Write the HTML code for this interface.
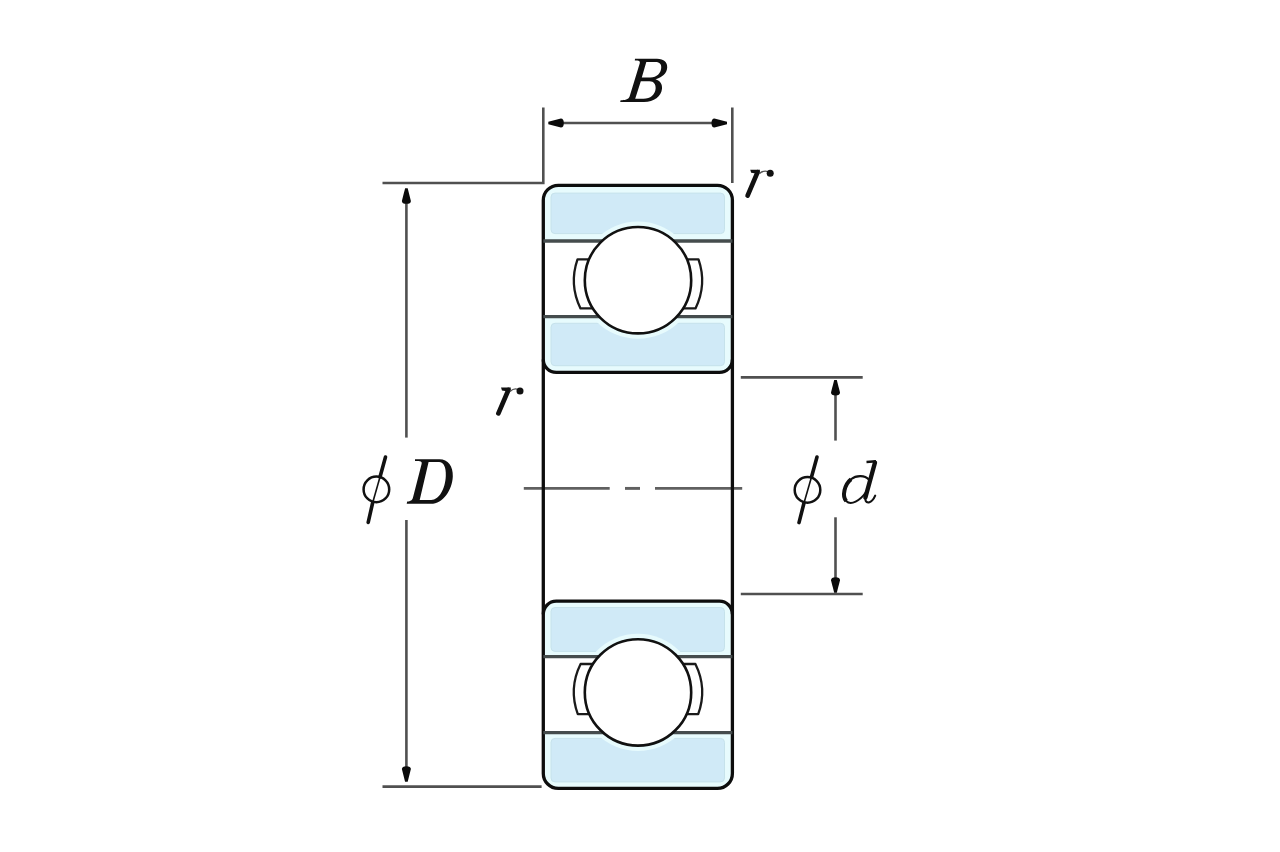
<!DOCTYPE html>
<html><head><meta charset="utf-8">
<style>
html,body{margin:0;padding:0;background:#fff;width:1280px;height:852px;overflow:hidden}
svg{display:block}
text{font-family:"Liberation Serif",serif;font-style:italic;fill:#111}
</style></head>
<body>
<svg width="1280" height="852" viewBox="0 0 1280 852">
<rect width="1280" height="852" fill="#fff"/>

<!-- SECTION-DIMS -->
<g stroke="#505050" stroke-width="2.6" fill="none">
  <path d="M543.3,107.5 V183 H382.5"/>
  <path d="M732.3,107.5 V183"/>
  <line x1="556" y1="123" x2="719" y2="123"/>
  <line x1="406.4" y1="200" x2="406.4" y2="437.6"/>
  <line x1="406.4" y1="520" x2="406.4" y2="770"/>
  <line x1="382.5" y1="786.6" x2="541.6" y2="786.6"/>
  <line x1="740.8" y1="377.4" x2="862.7" y2="377.4"/>
  <line x1="740.8" y1="594" x2="862.7" y2="594"/>
  <line x1="835.5" y1="392" x2="835.5" y2="440.6"/>
  <line x1="835.5" y1="517.3" x2="835.5" y2="580"/>
</g>
<defs><path id="arw" d="M0,-1.3 L12.6,-4.5 A2.9,4.5 0 0 1 12.6,4.5 L0,1.3 Z"/></defs>
<g fill="#0a0a0a">
  <use href="#arw" transform="translate(548.3,123) rotate(0)"/>
  <use href="#arw" transform="translate(727,123) rotate(180)"/>
  <use href="#arw" transform="translate(406.4,188.3) rotate(90)"/>
  <use href="#arw" transform="translate(406.4,781.7) rotate(-90)"/>
  <use href="#arw" transform="translate(835.5,380) rotate(90)"/>
  <use href="#arw" transform="translate(835.5,592.8) rotate(-90)"/>
</g>

<!-- SECTION-CENTRELINE -->
<g stroke="#606060" stroke-width="2.9">
  <line x1="523.8" y1="488.4" x2="609.7" y2="488.4"/>
  <line x1="625" y1="488.4" x2="640" y2="488.4"/>
  <line x1="655" y1="488.4" x2="742.2" y2="488.4"/>
</g>

<!-- SECTION-BEARING -->
<defs><clipPath id="bodyclip"><path d="M558.3,185.3 H717.4 A15,15 0 0 1 732.4,200.3 V773.4 A15,15 0 0 1 717.4,788.4 H558.3 A15,15 0 0 1 543.3,773.4 V200.3 A15,15 0 0 1 558.3,185.3 Z"/></clipPath></defs>
<g fill="#e7fbfd" clip-path="url(#bodyclip)">
  <rect x="544.3" y="186.3" width="187.1" height="53.7"/>
  <path d="M544.3,317.7 H731.4 V359.5 A12,12 0 0 1 719.4,371.5 H556.3 A12,12 0 0 1 544.3,359.5 Z"/>
  <path d="M544.3,655.6 H731.4 V614.1 A12,12 0 0 0 719.4,602.1 H556.3 A12,12 0 0 0 544.3,614.1 Z"/>
  <rect x="544.3" y="733.6" width="187.1" height="53.8"/>
</g>
<g fill="#d0eaf7" stroke="#c6e2eb" stroke-width="1">
  <rect x="551" y="193.1" width="173.5" height="40.5" rx="4"/>
  <rect x="551" y="323.3" width="173.5" height="42.4" rx="4"/>
  <rect x="551" y="607.5" width="173.5" height="43.9" rx="4"/>
  <rect x="551" y="738.4" width="173.5" height="43.5" rx="4"/>
</g>
<defs><clipPath id="ringclip">
  <rect x="540" y="180" width="200" height="61"/>
  <rect x="540" y="316.7" width="200" height="60"/>
  <rect x="540" y="596" width="200" height="60.6"/>
  <rect x="540" y="732.6" width="200" height="60"/>
</clipPath></defs>
<g fill="#e7fbfd" clip-path="url(#ringclip)">
  <circle cx="638" cy="280.2" r="58.6"/>
  <circle cx="638" cy="692.4" r="58.6"/>
</g>
<g fill="none" stroke="#0d0d0d" stroke-width="3.3">
  <path d="M558.3,185.3 H717.4 A15,15 0 0 1 732.4,200.3 V773.4 A15,15 0 0 1 717.4,788.4 H558.3 A15,15 0 0 1 543.3,773.4 V200.3 A15,15 0 0 1 558.3,185.3 Z"/>
  <path d="M543.3,359.4 A13,13 0 0 0 556.3,372.4 H719.4 A13,13 0 0 0 732.4,359.4"/>
  <path d="M543.3,614.2 A13,13 0 0 1 556.3,601.2 H719.4 A13,13 0 0 1 732.4,614.2"/>
</g>
<g stroke="#454c4d" stroke-width="3.3">
  <line x1="543.3" y1="241.0" x2="732.4" y2="241.0"/>
  <line x1="543.3" y1="316.7" x2="732.4" y2="316.7"/>
  <line x1="543.3" y1="656.6" x2="732.4" y2="656.6"/>
  <line x1="543.3" y1="732.6" x2="732.4" y2="732.6"/>
</g>
<g fill="#fff" stroke="#1a1a1a" stroke-width="2.3" stroke-linejoin="round">
  <path d="M577.5,259.4 L605,259.4 L605,308.4 L580.5,308.4 A64,64 0 0 1 577.5,259.4 Z"/>
  <path d="M698.5,259.4 L671,259.4 L671,308.4 L695.5,308.4 A64,64 0 0 0 698.5,259.4 Z"/>
  <path d="M580.6,664.0 L605,664.0 L605,714.2 L577.8,714.2 A64,64 0 0 1 580.6,664.0 Z"/>
  <path d="M695.4,664.0 L671,664.0 L671,714.2 L698.2,714.2 A64,64 0 0 0 695.4,664.0 Z"/>
</g>
<g fill="#fff" stroke="#111" stroke-width="2.6">
  <circle cx="638" cy="280.2" r="53.2"/>
  <circle cx="638" cy="692.4" r="53.2"/>
</g>

<!-- SECTION-LABELS -->
<!-- glyph-B -->
<path fill="#111" fill-rule="evenodd" d="M635,58.8 L657,58.8 C664,58.8 667.6,62.3 667.2,67.8 C666.8,73.5 662,77.6 655.5,79.3 C660.5,80.8 662.4,84.5 662,88.7 C661.3,96.3 654,102 644,102 L620.2,102 L620.6,100.2 C624.5,100.2 628.5,99.8 629.6,96.5 L639.7,63.5 C640.4,61 639,60.6 634.8,60.6 Z
 M646.3,62 L655.5,62 C659.8,62 661.6,64.5 661.2,68 C660.7,73.3 657,77.4 650.5,77.4 L641.8,77.4 Z
 M640.8,81.2 L649.5,81.2 C654,81.2 656,84.5 655.6,88.8 C655,94.8 650.5,98.8 643.5,98.8 L635.2,98.8 Z"/>
<!-- glyph-r -->
<g>
  <line x1="498.4" y1="413.4" x2="508.4" y2="390.0" stroke="#111" stroke-width="4.7" stroke-linecap="round"/>
  <path d="M501.0,387.6 L510.8,387.6 L510.0,391.8 L502.0,390.6 Z" fill="#111"/>
  <path d="M510.0,391.5 Q514.0,387.8 518.0,389.4" fill="none" stroke="#555" stroke-width="1.3"/>
  <circle cx="520.0" cy="391.0" r="3.5" fill="#111"/>
</g>
<g>
  <line x1="747.6" y1="195.6" x2="757.6" y2="172.2" stroke="#111" stroke-width="4.7" stroke-linecap="round"/>
  <path d="M750.2,169.8 L760.0,169.8 L759.2,174.0 L751.2,172.8 Z" fill="#111"/>
  <path d="M759.2,173.7 Q763.2,170.0 768.2,171.6" fill="none" stroke="#555" stroke-width="1.3"/>
  <circle cx="770.2" cy="173.2" r="3.5" fill="#111"/>
</g>
<!-- glyph-D -->
<path fill="#111" fill-rule="evenodd" d="M415,459.2 L439.5,459.2 C448,459.2 453.2,466 452.8,476.5 C452.3,490 443,503.8 431,503.8 L406.7,503.8 L407.2,501.6 C410.8,501.2 412.2,500.2 413,497.5 L421.6,464 C422.3,461.5 421,461 415,461 Z
 M428.6,462 L439,462 C443.6,462 446.2,467 445.8,476 C445.3,489 439,499.9 431.3,499.9 L419.7,499.9 Z"/>
<!-- glyph-d -->
<g fill="none" stroke="#111">
  <line x1="875" y1="462.5" x2="865.4" y2="497.5" stroke-width="4.4" stroke-linecap="round"/>
  <line x1="866.5" y1="462" x2="876" y2="461.3" stroke-width="2.4"/>
  <path d="M865.4,496 Q864.4,503 868.8,502.4 Q872.8,501.2 875.2,495.6" stroke-width="2.1" stroke-linecap="round"/>
  <path d="M868.8,479.5 C865,475.2 856.5,474.8 851,479.2 C844.5,484.5 841.8,496 846.2,501 C851,506 860,500.5 865.8,492.5" stroke-width="2.1"/>
  <path d="M851,479.2 C844.5,484.5 841.8,496 846.2,501" stroke-width="4"/>
</g>
<!-- glyph-phi -->
<g fill="none" stroke="#111">
  <circle cx="376.4" cy="489.4" r="12.8" stroke-width="2.5"/>
  <line x1="385.5" y1="457" x2="380" y2="477" stroke-width="3.6" stroke-linecap="round"/>
  <line x1="380" y1="477" x2="372.6" y2="503" stroke-width="1.6"/>
  <line x1="372.6" y1="503" x2="368.2" y2="522.4" stroke-width="3.6" stroke-linecap="round"/>

  <circle cx="807.5" cy="489.9" r="12.8" stroke-width="2.5"/>
  <line x1="817" y1="457" x2="811.5" y2="477" stroke-width="3.6" stroke-linecap="round"/>
  <line x1="811.5" y1="477" x2="804" y2="503" stroke-width="1.6"/>
  <line x1="804" y1="503" x2="799" y2="522.6" stroke-width="3.6" stroke-linecap="round"/>
</g>
</svg>
</body></html>
